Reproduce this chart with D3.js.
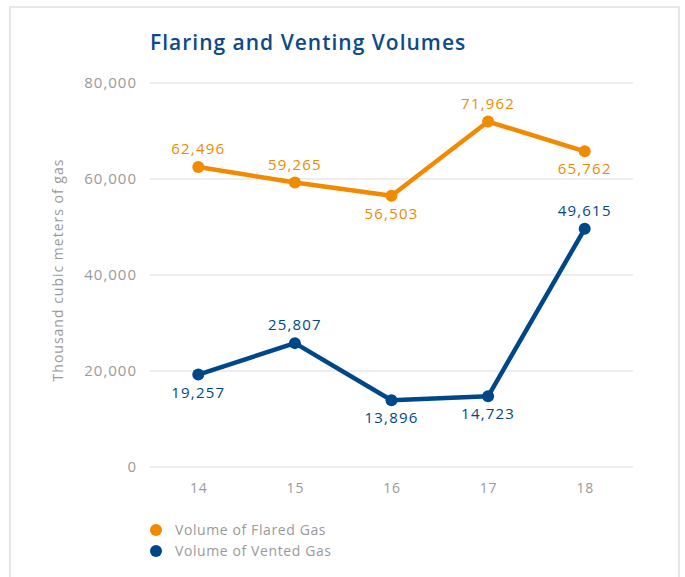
<!DOCTYPE html>
<html>
<head>
<meta charset="utf-8">
<script src="https://cdn.jsdelivr.net/npm/d3@7"></script>
<style>
  body { margin: 0; background: #fff; }
  text { font-family: "Open Sans", sans-serif; }
</style>
</head>
<body>
<script>
// Chart data
const years = ["14", "15", "16", "17", "18"];
const flared = [62496, 59265, 56503, 71962, 65762];
const vented = [19257, 25807, 13896, 14723, 49615];
// label side: -1 above, 1 below
const flaredLabelSide = [-1, -1, 1, -1, 1];
const ventedLabelSide = [1, -1, 1, 1, -1];
const yTicks = [0, 20000, 40000, 60000, 80000];

const w = 685;
const h = 577;

const orange = "#f28a00";
const blue = "#00478a";

const svg = d3.select("body")
    .append("svg")
    .attr("width", w)
    .attr("height", h);

// Frame
svg.append("path")
    .attr("d", `M10,${h} L10,7 L679,7 L679,${h}`)
    .attr("fill", "none")
    .attr("stroke", "#e6e6e6")
    .attr("stroke-width", 2);

// Scales
const xScale = d3.scalePoint()
    .domain(years)
    .range([150, 633])
    .padding(0.5);

const yScale = d3.scaleLinear()
    .domain([0, 80000])
    .range([467, 83]);

// Gridlines
svg.append("g")
    .selectAll("line")
    .data(yTicks)
    .join("line")
    .attr("x1", 150)
    .attr("x2", 633)
    .attr("y1", d => yScale(d))
    .attr("y2", d => yScale(d))
    .attr("stroke", "#dcdcdc")
    .attr("stroke-width", 1);

// Y axis
const leftAxis = d3.axisLeft(yScale)
    .tickValues(yTicks)
    .tickSize(0)
    .tickPadding(13)
    .tickFormat(d3.format(","));

svg.append("g")
    .attr("transform", "translate(150,0)")
    .call(leftAxis)
    .call(g => g.select(".domain").remove())
    .selectAll("text")
    .attr("fill", "#9a9a9a")
    .attr("font-size", 15)
    .attr("letter-spacing", 1);

// X axis
const bottomAxis = d3.axisBottom(xScale)
    .tickSize(0)
    .tickPadding(16);

svg.append("g")
    .attr("transform", "translate(0,467)")
    .call(bottomAxis)
    .call(g => g.select(".domain").remove())
    .selectAll("text")
    .attr("fill", "#9a9a9a")
    .attr("font-size", 14)
    .attr("letter-spacing", 0.8);

// Title
svg.append("text")
    .attr("x", 150)
    .attr("y", 50)
    .attr("fill", "#0d4a8a")
    .attr("font-size", 21)
    .attr("font-weight", 600)
    .attr("letter-spacing", 1)
    .text("Flaring and Venting Volumes");

// Y-axis label
svg.append("text")
    .attr("transform", "rotate(-90)")
    .attr("x", -270)
    .attr("y", 63)
    .attr("text-anchor", "middle")
    .attr("fill", "#9a9a9a")
    .attr("font-size", 14)
    .attr("letter-spacing", 1)
    .text("Thousand cubic meters of gas");

const fmt = d3.format(",");

function drawSeries(values, sides, color) {
    const line = d3.line()
        .x((d, i) => xScale(years[i]))
        .y(d => yScale(d));

    svg.append("path")
        .datum(values)
        .attr("fill", "none")
        .attr("stroke", color)
        .attr("stroke-width", 4.5)
        .attr("stroke-linejoin", "round")
        .attr("d", line);

    svg.append("g")
        .selectAll("circle")
        .data(values)
        .join("circle")
        .attr("cx", (d, i) => xScale(years[i]))
        .attr("cy", d => yScale(d))
        .attr("r", 6)
        .attr("fill", color);

    svg.append("g")
        .selectAll("text")
        .data(values)
        .join("text")
        .attr("x", (d, i) => xScale(years[i]))
        .attr("y", (d, i) => yScale(d) + (sides[i] < 0 ? -13 : 23))
        .attr("text-anchor", "middle")
        .attr("fill", color)
        .attr("font-size", 15)
        .attr("letter-spacing", 1.2)
        .text(d => fmt(d));
}

drawSeries(flared, flaredLabelSide, orange);
drawSeries(vented, ventedLabelSide, blue);

// Legend
const legend = [
    { name: "Volume of Flared Gas", color: orange },
    { name: "Volume of Vented Gas", color: blue }
];

const lg = svg.append("g")
    .selectAll("g")
    .data(legend)
    .join("g")
    .attr("transform", (d, i) => `translate(156, ${530 + i * 21})`);

lg.append("circle")
    .attr("r", 6)
    .attr("fill", d => d.color);

lg.append("text")
    .attr("x", 19)
    .attr("y", 5)
    .attr("fill", "#9a9a9a")
    .attr("font-size", 14)
    .attr("letter-spacing", 0.6)
    .text(d => d.name);
</script>
</body>
</html>
